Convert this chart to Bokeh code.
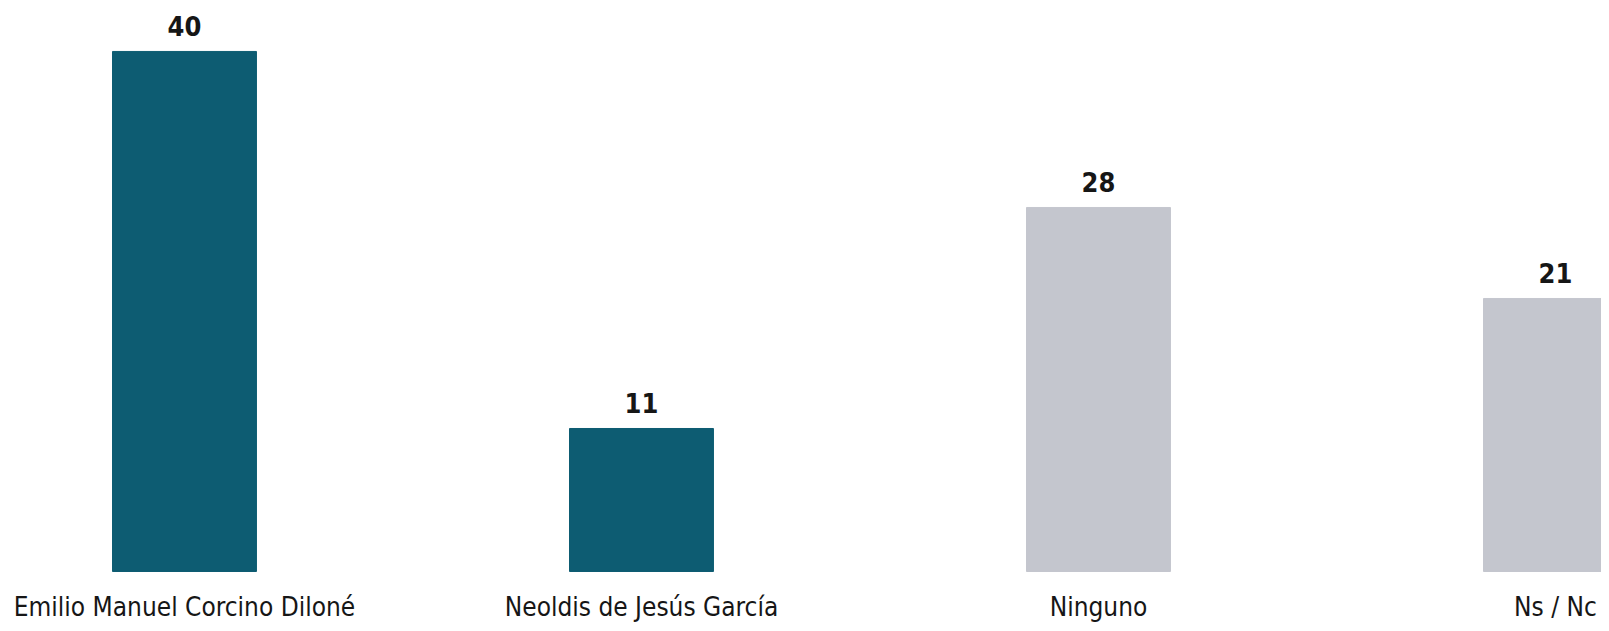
from bokeh.plotting import figure
from bokeh.models import Range1d, ColumnDataSource
from bokeh.core.properties import value
from bokeh.embed import file_html
from bokeh.resources import INLINE

categories = ["Emilio Manuel Corcino Diloné", "Neoldis de Jesús García", "Ninguno", "Ns / Nc"]
values = [40, 11, 28, 21]
colors = ["#0d5c72", "#0d5c72", "#c4c6ce", "#c4c6ce"]
labels = [str(v) for v in values]

FONT = "DejaVu Sans Condensed"

xs = list(range(len(categories)))
src = ColumnDataSource(dict(x=xs, top=values, color=colors, label=labels,
                            cat=categories, zero=[0] * len(xs)))

W, H = 1601, 623
p = figure(width=W, height=H, output_backend="svg", toolbar_location=None,
           x_range=Range1d(-0.4026, 3.1007), y_range=Range1d(-4.0, 43.92),
           min_border=0)
p.vbar(x="x", top="top", width=0.315, bottom=0, color="color", source=src)
p.text(x="x", y="top", text="label", source=src, text_align="center",
       text_baseline="alphabetic", y_offset=-25, text_font=value(FONT),
       text_font_style="bold", text_font_size="27px", text_color="#161616")
p.text(x="x", y="zero", text="cat", source=src, text_align="center",
       text_baseline="alphabetic", y_offset=36, text_font=value(FONT),
       text_font_size="26px", text_color="#161616")

p.xaxis.visible = False
p.yaxis.visible = False
p.grid.visible = False
p.outline_line_color = None
p.background_fill_color = "white"
p.border_fill_color = "white"

open("out.html", "w").write(file_html(p, INLINE))
